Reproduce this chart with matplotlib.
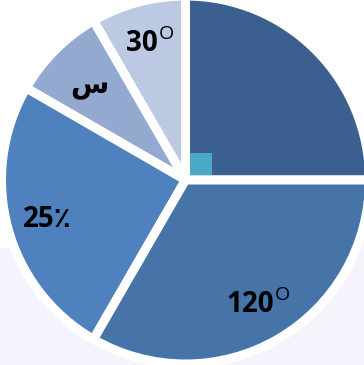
import matplotlib
matplotlib.use("Agg")
import matplotlib.pyplot as plt
from matplotlib.patches import Polygon, Rectangle

# Slice sizes in degrees, counter-clockwise from 3 o'clock
angles = [90, 30, 30, 90, 120]
labels = ["", "30", "س", "25٪", "120"]
degree_mark = [False, True, False, False, True]
colors = ["#3b5f8e", "#bbc9e2", "#94a9d0", "#4e81bd", "#4673a8"]

W, H = 364, 365
fig = plt.figure(figsize=(W / 100, H / 100), dpi=100)
ax = fig.add_axes([0, 0, 1, 1])

# pale lavender backdrop behind the lower part of the pie
ax.add_patch(Polygon([(0, H - 248), (W, H - 228), (W, 0), (0, 0)],
                     closed=True, facecolor="#f5f4fd", edgecolor="none", zorder=0))

cx, cy, r = 185.5, H - 180, 184
wedges, _ = ax.pie(angles, colors=colors, startangle=0, counterclock=True,
                   center=(cx, cy), radius=r, frame=True,
                   wedgeprops=dict(edgecolor="white", linewidth=6.5))
for w in wedges:
    w.set_zorder(2)
ax.set_xlim(0, W)
ax.set_ylim(0, H)
ax.set_aspect("equal")
ax.axis("off")

# small accent square at the inner corner of the first slice
ax.add_patch(Rectangle((190, H - 175), 21.5, 22, facecolor="#4aaac6",
                       edgecolor="none", zorder=3))

# label anchor (left, baseline) for each slice label
label_pos = [None, (126, H - 51), (70, H - 93), (23, H - 227), (226, H - 312)]
fam = ["Open Sans", "DejaVu Sans"]
for lab, mark, pos in zip(labels, degree_mark, label_pos):
    if pos is None:
        continue
    t = ax.text(pos[0], pos[1], lab, fontsize=20, fontweight="bold",
                family=fam, ha="left", va="baseline", color="black", zorder=4)
    if mark:
        ax.annotate("O", xy=(1, 1), xycoords=t, xytext=(0.5, 3),
                    textcoords="offset points", ha="left", va="top",
                    fontsize=14, family=fam, color="black", zorder=4)

fig.savefig("out.png", dpi=100, facecolor="white")
